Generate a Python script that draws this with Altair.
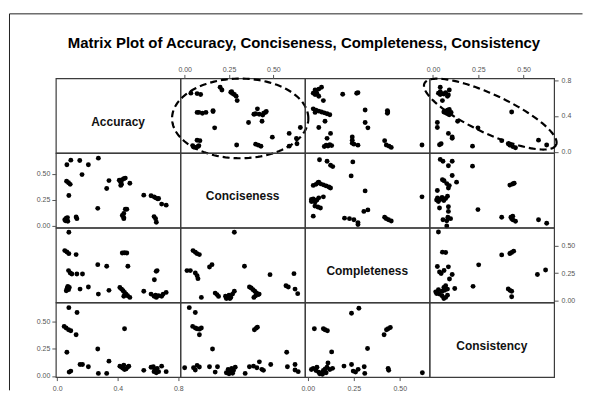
import numpy as np
import pandas as pd
import altair as alt

VARS = ["Accuracy", "Conciseness", "Completeness", "Consistency"]
TITLE = "Matrix Plot of Accuracy, Conciseness, Completeness, Consistency"

# Accuracy vs Conciseness
ac_acc = [0.064, 0.090, 0.149, 0.206, 0.164, 0.272, 0.062, 0.075, 0.086, 0.077,
          0.050, 0.060, 0.070, 0.068, 0.055, 0.125, 0.130, 0.268, 0.342, 0.327,
          0.410, 0.420, 0.430, 0.440, 0.450, 0.420, 0.480, 0.425, 0.430, 0.440,
          0.440, 0.450, 0.460, 0.572, 0.620, 0.640, 0.650, 0.665, 0.670, 0.690,
          0.720, 0.640, 0.650, 0.655, 0.440]
ac_conc = [0.589, 0.633, 0.630, 0.589, 0.494, 0.652, 0.430, 0.415, 0.400, 0.293,
           0.060, 0.075, 0.045, 0.080, 0.050, 0.086, 0.070, 0.169, 0.436, 0.360,
           0.440, 0.420, 0.445, 0.455, 0.460, 0.390, 0.410, 0.400, 0.100, 0.080,
           0.120, 0.160, 0.160, 0.296, 0.290, 0.280, 0.270, 0.260, 0.265, 0.210,
           0.200, 0.090, 0.070, 0.035, 0.070]

# Accuracy vs Completeness
ap_acc = [0.077, 0.050, 0.064, 0.077, 0.125, 0.075, 0.086, 0.097, 0.130, 0.167,
          0.060, 0.065, 0.070, 0.075, 0.080, 0.151, 0.206, 0.268, 0.327, 0.272,
          0.342, 0.430, 0.445, 0.460, 0.467, 0.414, 0.425, 0.435, 0.445, 0.455,
          0.465, 0.440, 0.480, 0.572, 0.642, 0.654, 0.660, 0.620, 0.640, 0.655,
          0.670, 0.690, 0.700, 0.720, 0.650]
ap_comp = [0.621, 0.454, 0.442, 0.427, 0.418, 0.273, 0.251, 0.242, 0.242, 0.242,
           0.090, 0.110, 0.130, 0.100, 0.120, 0.105, 0.124, 0.327, 0.312, 0.060,
           0.094, 0.433, 0.435, 0.433, 0.312, 0.120, 0.105, 0.090, 0.075, 0.060,
           0.045, 0.040, 0.030, 0.085, 0.190, 0.266, 0.273, 0.060, 0.040, 0.030,
           0.045, 0.040, 0.060, 0.075, 0.050]

# Accuracy vs Consistency
as_acc = [0.077, 0.131, 0.046, 0.059, 0.075, 0.090, 0.125, 0.064, 0.079, 0.090,
          0.151, 0.167, 0.206, 0.268, 0.272, 0.327, 0.342, 0.445, 0.414, 0.425,
          0.435, 0.445, 0.455, 0.465, 0.473, 0.440, 0.572, 0.620, 0.635, 0.645,
          0.640, 0.655, 0.670, 0.690, 0.720, 0.660, 0.650]
as_cons = [0.627, 0.582, 0.455, 0.440, 0.424, 0.415, 0.379, 0.218, 0.036, 0.045,
           0.106, 0.106, 0.085, 0.248, 0.024, 0.024, 0.136, 0.434, 0.090, 0.080,
           0.070, 0.060, 0.065, 0.080, 0.090, 0.100, 0.052, 0.080, 0.085, 0.060,
           0.040, 0.030, 0.040, 0.090, 0.040, 0.070, 0.050]

# Conciseness vs Completeness
cp_conc = [0.280, 0.047, 0.060, 0.070, 0.083, 0.140, 0.154, 0.337, 0.481, 0.616,
           0.013, 0.032, 0.060, 0.070, 0.075, 0.094, 0.172, 0.182, 0.191, 0.230,
           0.240, 0.250, 0.260, 0.270, 0.280, 0.255, 0.235, 0.365, 0.375, 0.385,
           0.395, 0.405, 0.415, 0.390, 0.420, 0.571, 0.584, 0.622, 0.637, 0.400]
cp_comp = [0.621, 0.454, 0.439, 0.427, 0.418, 0.305, 0.327, 0.312, 0.236, 0.245,
           0.273, 0.273, 0.251, 0.227, 0.200, 0.030, 0.069, 0.055, 0.039, 0.040,
           0.025, 0.050, 0.030, 0.060, 0.085, 0.020, 0.020, 0.124, 0.115, 0.100,
           0.085, 0.070, 0.055, 0.030, 0.060, 0.136, 0.124, 0.105, 0.064, 0.045]

# Conciseness vs Consistency
cs_conc = [0.026, 0.060, 0.045, 0.060, 0.070, 0.083, 0.094, 0.083, 0.157, 0.393,
           0.403, 0.410, 0.575, 0.000, 0.050, 0.060, 0.070, 0.083, 0.140, 0.185,
           0.172, 0.235, 0.245, 0.255, 0.265, 0.275, 0.285, 0.250, 0.270, 0.341,
           0.365, 0.388, 0.407, 0.421, 0.435, 0.444, 0.485, 0.579, 0.622, 0.622,
           0.640]
cs_cons = [0.627, 0.582, 0.455, 0.440, 0.434, 0.430, 0.440, 0.379, 0.248, 0.424,
           0.439, 0.448, 0.218, 0.076, 0.076, 0.055, 0.097, 0.082, 0.085, 0.085,
           0.036, 0.030, 0.060, 0.040, 0.070, 0.050, 0.080, 0.020, 0.025, 0.024,
           0.085, 0.090, 0.076, 0.130, 0.061, 0.052, 0.106, 0.085, 0.106, 0.055,
           0.040]

# Completeness vs Consistency
ps_comp = [0.238, 0.278, 0.036, 0.085, 0.094, 0.107, 0.415, 0.428, 0.437, 0.449,
           0.130, 0.325, 0.020, 0.030, 0.045, 0.060, 0.075, 0.085, 0.095, 0.105,
           0.110, 0.120, 0.135, 0.065, 0.080, 0.197, 0.238, 0.247, 0.260, 0.274,
           0.307, 0.310, 0.437, 0.440, 0.623, 0.050, 0.100]
ps_cons = [0.576, 0.621, 0.434, 0.434, 0.424, 0.415, 0.379, 0.424, 0.434, 0.445,
           0.221, 0.252, 0.060, 0.070, 0.050, 0.035, 0.025, 0.050, 0.065, 0.080,
           0.120, 0.060, 0.070, 0.020, 0.015, 0.091, 0.106, 0.045, 0.036, 0.061,
           0.085, 0.024, 0.070, 0.052, 0.030, 0.080, 0.030]

PAIRS = {
    (0, 1): (ac_acc, ac_conc),
    (0, 2): (ap_acc, ap_comp),
    (0, 3): (as_acc, as_cons),
    (1, 2): (cp_conc, cp_comp),
    (1, 3): (cs_conc, cs_cons),
    (2, 3): (ps_comp, ps_cons),
}

X_DOMAIN = {"Accuracy": [-0.009, 0.814], "Conciseness": [-0.024, 0.678],
            "Completeness": [-0.015, 0.662], "Consistency": [-0.019, 0.668]}
Y_DOMAIN = {"Accuracy": [-0.011, 0.819], "Conciseness": [-0.016, 0.700],
            "Completeness": [-0.015, 0.660], "Consistency": [-0.010, 0.673]}
TICKS = {"Accuracy": [0.0, 0.4, 0.8], "Conciseness": [0.0, 0.25, 0.5],
         "Completeness": [0.0, 0.25, 0.5], "Consistency": [0.0, 0.25, 0.5]}
FORMATS = {"Accuracy": ".1f", "Conciseness": ".2f",
           "Completeness": ".2f", "Consistency": ".2f"}

# dashed ellipse annotations: centre and two half-axis vectors (data units)
ELLIPSES = {
    (0, 1): ((0.313, 0.373), (0.384, 0.0), (0.0, 0.444)),
    (0, 3): ((0.316, 0.421), (0.363, -0.343), (-0.0447, -0.196)),
}

W, H = 125, 74.7
LINE = "#3c3c3c"
LABEL = "#555555"
FONT = "Liberation Sans"


def make_axis(var, orient):
    pad = {"bottom": 3.5, "top": 2, "left": 2, "right": 3}[orient]
    size = 3.5 if orient == "bottom" else 4
    return alt.Axis(orient=orient, values=TICKS[var], format=FORMATS[var],
                    title=None, grid=False, domain=False, tickSize=size,
                    labelPadding=pad, labelFontSize=7, labelColor=LABEL,
                    tickColor=LABEL, labelFont=FONT)


def scatter_panel(i, j):
    a, b = min(i, j), max(i, j)
    la, lb = PAIRS[(a, b)]
    df = pd.DataFrame({VARS[a]: la, VARS[b]: lb})
    xv, yv = VARS[j], VARS[i]
    xo = "bottom" if (i == 3 and j in (0, 2)) else ("top" if (i == 0 and j in (1, 3)) else None)
    yo = "right" if (j == 3 and i in (0, 2)) else ("left" if (j == 0 and i in (1, 3)) else None)
    xenc = alt.X(f"{xv}:Q", scale=alt.Scale(domain=X_DOMAIN[xv], nice=False, zero=False),
                 axis=make_axis(xv, xo) if xo else None)
    yenc = alt.Y(f"{yv}:Q", scale=alt.Scale(domain=Y_DOMAIN[yv], nice=False, zero=False),
                 axis=make_axis(yv, yo) if yo else None)
    pts = alt.Chart(df).mark_circle(size=24, color="black", opacity=1).encode(x=xenc, y=yenc)
    if (i, j) in ELLIPSES:
        (cx, cy), (ux, uy), (vx, vy) = ELLIPSES[(i, j)]
        t = np.linspace(0, 2 * np.pi, 145)
        edf = pd.DataFrame({xv: cx + ux * np.cos(t) + vx * np.sin(t),
                            yv: cy + uy * np.cos(t) + vy * np.sin(t),
                            "k": np.arange(len(t))})
        ell = alt.Chart(edf).mark_line(color="black", strokeWidth=2.2,
                                       strokeDash=[7, 4], clip=False).encode(
            x=xenc, y=yenc, order="k:Q")
        return alt.layer(pts, ell).properties(width=W, height=H)
    return pts.properties(width=W, height=H)


def label_panel(i):
    df = pd.DataFrame({"label": [VARS[i]]})
    txt = alt.Chart(df).mark_text(fontSize=12, fontWeight="bold", font=FONT,
                                  color="#111111", align="center",
                                  baseline="alphabetic").encode(
        text="label:N", x=alt.value(W / 2), y=alt.value(47.5))
    if i != 0:
        return txt.properties(width=W, height=H)
    one = pd.DataFrame({"title": [TITLE]})
    frame_v = alt.Chart(one).mark_rule(color="#222222", strokeWidth=1).encode(
        x=alt.value(-46.5), y=alt.value(-64.8), y2=alt.value(313))
    frame_h = alt.Chart(one).mark_rule(color="#222222", strokeWidth=1).encode(
        x=alt.value(-46.5), x2=alt.value(528.5), y=alt.value(-64.8))
    title = alt.Chart(one).mark_text(fontSize=15, fontWeight="bold", font=FONT,
                                     color="black", align="center",
                                     baseline="alphabetic").encode(
        text="title:N", x=alt.value(249), y=alt.value(-30.3))
    return alt.layer(frame_v, frame_h, title, txt).properties(width=W, height=H)


panels = []
for i in range(4):
    for j in range(4):
        panels.append(label_panel(i) if i == j else scatter_panel(i, j))

chart = alt.concat(*panels, columns=4, spacing=0, bounds="flush").properties(
    padding={"left": 0, "top": 4, "right": 0, "bottom": -2.5}
).configure_view(stroke=LINE, strokeWidth=1.2)

chart.save("out.html", embed_options={"renderer": "svg", "actions": False})
